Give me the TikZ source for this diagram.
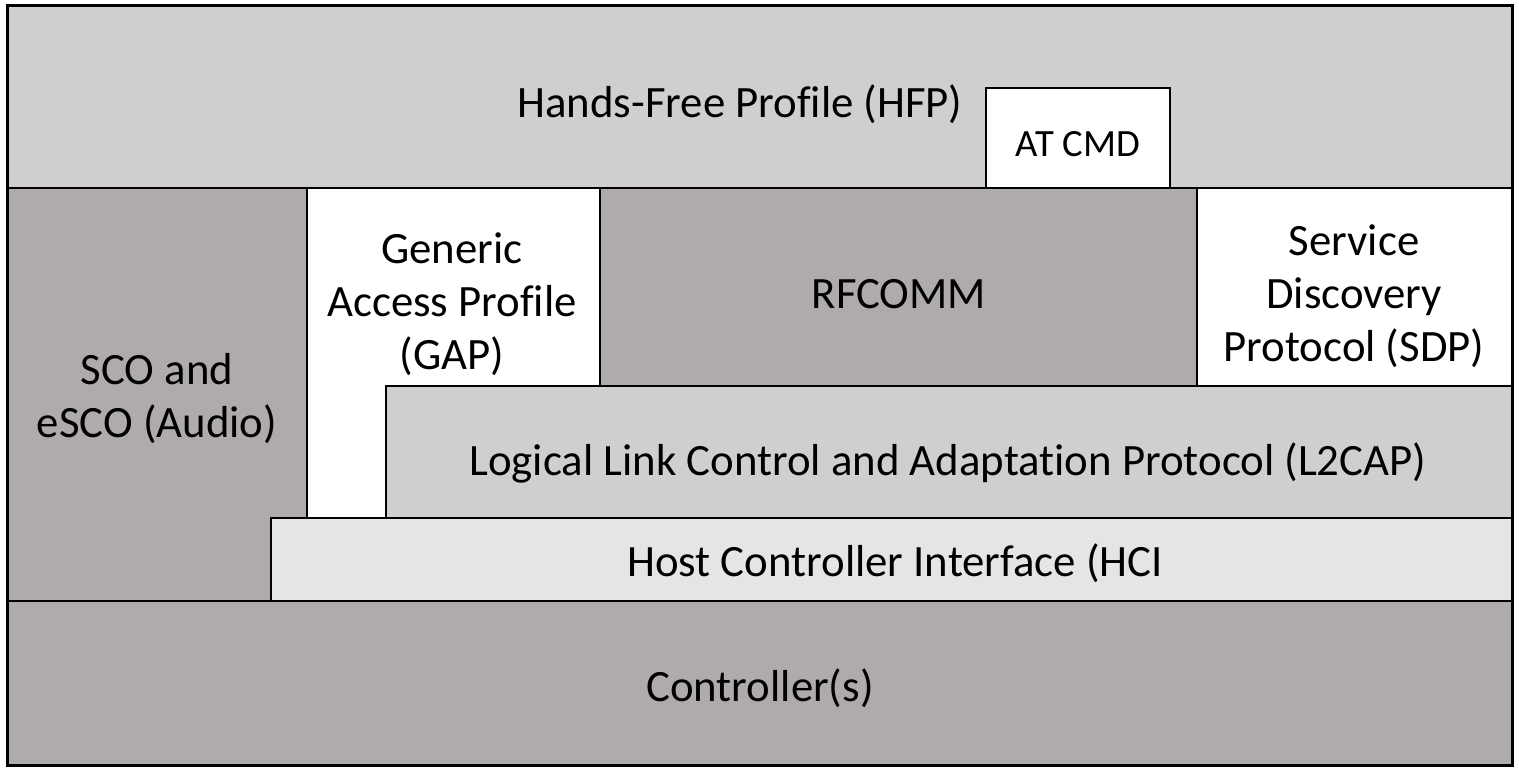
\documentclass[tikz,border=0pt]{standalone}
\usepackage{fontspec}
\setmainfont{Carlito}[Ligatures=NoCommon]
\usepackage{tikz}
\definecolor{hfpgray}{HTML}{D0CECE}
\definecolor{stackgray}{HTML}{AFABAB}
\definecolor{hcigray}{HTML}{E5E5E5}
\tikzset{
    % layers of the stack
    layer/.style={
           draw=black,
           line width=1pt},
    % text in the layers
    label/.style={
           align=center,
           inner sep=0pt,
           font=\fontsize{22.4}{26.5}\selectfont}
}

\begin{document}
\begin{tikzpicture}[x=0.5pt,y=-0.5pt]
\useasboundingbox (0,0) rectangle (1519,774);
 %layers
\path[layer, fill=hfpgray] (7,6) rectangle (1512,188);
\path[layer, fill=white] (986,88) rectangle (1170,188);
\path[layer, fill=stackgray] (7,188) rectangle (307,601);
\path[layer, fill=white] (307,188) rectangle (600,518);
\path[layer, fill=stackgray] (600,188) rectangle (1197,386);
\path[layer, fill=white] (1197,188) rectangle (1512,386);
\path[layer, fill=hfpgray] (386,386) rectangle (1512,518);
\path[layer, fill=hcigray] (271,518) rectangle (1512,601);
\path[layer, fill=stackgray] (7,601) rectangle (1512,765);
\draw[line width=1.5pt] (7,6) rectangle (1512,765);
 %labels
\node[label] (hfp) at (740,104) {Hands-Free Profile (HFP)};
\node[label, font=\fontsize{19.3}{23}\selectfont] (atcmd) at (1078,144) {AT CMD};
\node[label] (sco) at (157,399) {SCO and\\eSCO (Audio)};
\node[label] (gap) at (452,304) {Generic\\Access Profile\\(GAP)};
\node[label] (rfcomm) at (899,294) {RFCOMM};
\node[label] (sdp) at (1354,296) {Service\\Discovery\\Protocol (SDP)};
\node[label] (l2cap) at (948,463) {Logical Link Control and Adaptation Protocol (L2CAP)};
\node[label] (hci) at (895,563) {Host Controller Interface (HCI};
\node[label] (ctrl) at (760,688) {Controller(s)};
\end{tikzpicture}
\end{document}
